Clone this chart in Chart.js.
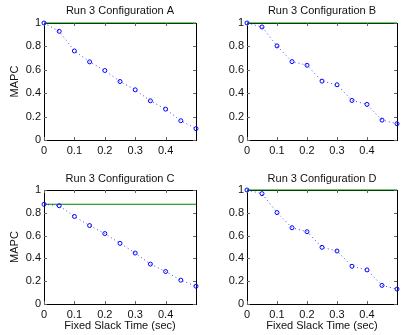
<!DOCTYPE html>
<html>
<head>
<meta charset="utf-8">
<script src="https://cdn.jsdelivr.net/npm/chart.js@4"></script>
<style>
  body { margin: 0; background: #fff; }
  .panel { position: absolute; }
</style>
</head>
<body>
<div class="panel" style="left:0;top:0;width:201px;height:168px"><canvas id="chart-a"></canvas></div>
<div class="panel" style="left:201px;top:0;width:201px;height:168px"><canvas id="chart-b"></canvas></div>
<div class="panel" style="left:0;top:168px;width:201px;height:167px"><canvas id="chart-c"></canvas></div>
<div class="panel" style="left:201px;top:168px;width:201px;height:167px"><canvas id="chart-d"></canvas></div>
<script>
// data
const slackTimes = [0, 0.05, 0.1, 0.15, 0.2, 0.25, 0.3, 0.35, 0.4, 0.45, 0.5];
const mapcA = [1.0, 0.929, 0.761, 0.668, 0.594, 0.50, 0.429, 0.335, 0.264, 0.165, 0.097];
const mapcB = [1.0, 0.966, 0.804, 0.670, 0.639, 0.503, 0.472, 0.338, 0.304, 0.170, 0.139];
const mapcC = [0.875, 0.862, 0.768, 0.688, 0.618, 0.532, 0.447, 0.350, 0.285, 0.209, 0.156];
const mapcD = [1.0, 0.968, 0.802, 0.669, 0.634, 0.497, 0.465, 0.331, 0.299, 0.163, 0.131];
const baselines = [1.0, 1.0, 0.875, 1.0]; // green reference line, A..D
const configNames = ['A', 'B', 'C', 'D'];
const xTicks = [0, 0.1, 0.2, 0.3, 0.4];
const yTicks = [0, 0.2, 0.4, 0.6, 0.8, 1];

const FONT = { family: '"Liberation Sans", Arial, sans-serif', size: 11, weight: 'normal' };

// matlab style box + inward tick marks
const boxPlugin = {
  id: 'box',
  beforeDatasetsDraw(chart) {
    const a = chart.chartArea, c = chart.ctx;
    const xs = chart.scales.x, ys = chart.scales.y;
    c.save();
    c.strokeStyle = '#000';
    c.lineWidth = 1;
    c.strokeRect(Math.round(a.left) + 0.5, Math.round(a.top) + 0.5,
                 Math.round(a.right - a.left), Math.round(a.bottom - a.top));
    c.strokeStyle = '#666';
    c.beginPath();
    xTicks.forEach(function (v) {
      const px = Math.round(xs.getPixelForValue(v)) + 0.5;
      c.moveTo(px, a.bottom); c.lineTo(px, a.bottom - 3);
      c.moveTo(px, a.top); c.lineTo(px, a.top + 3);
    });
    yTicks.forEach(function (v) {
      const py = Math.round(ys.getPixelForValue(v)) + 0.5;
      c.moveTo(a.left, py); c.lineTo(a.left + 3, py);
      c.moveTo(a.right, py); c.lineTo(a.right - 3, py);
    });
    c.stroke();
    c.restore();
  }
};

function makeChart(id, idx, values, opts) {
  const pts = slackTimes.map(function (t, i) { return { x: t, y: values[i] }; });
  const g = baselines[idx];
  return new Chart(document.getElementById(id), {
    type: 'line',
    data: {
      datasets: [{
        data: pts,
        borderColor: 'rgba(0,0,255,0.75)',
        borderWidth: 1,
        borderDash: [1, 3],
        pointRadius: 2,
        pointBorderWidth: 1,
        pointBorderColor: '#0000ff',
        pointBackgroundColor: 'rgba(0,0,0,0)',
        clip: false,
        order: 0
      }, {
        data: [{ x: 0, y: g }, { x: 0.5, y: g }],
        borderColor: 'rgb(0,128,0)',
        borderWidth: 1.2,
        pointRadius: 0,
        clip: false,
        order: 1
      }]
    },
    options: {
      responsive: true,
      maintainAspectRatio: false,
      animation: false,
      layout: { padding: { left: 0, right: opts.padRight, top: 0, bottom: 0 } },
      plugins: {
        legend: { display: false },
        tooltip: { enabled: false },
        title: {
          display: true,
          text: 'Run 3 Configuration ' + configNames[idx],
          color: '#111',
          font: FONT,
          fullSize: false,
          padding: { top: opts.titleTop, bottom: opts.titleBottom }
        }
      },
      scales: {
        x: {
          type: 'linear',
          min: 0,
          max: 0.5,
          afterBuildTicks: function (s) { s.ticks = xTicks.map(function (v) { return { value: v }; }); },
          afterFit: function (s) { s.height = opts.xHeight; },
          grid: { display: false, drawTicks: false },
          border: { display: false },
          ticks: {
            color: '#111', font: FONT, padding: 4, maxRotation: 0,
            callback: function (v) { return String(+v.toFixed(2)); }
          },
          title: {
            display: opts.xTitle,
            text: 'Fixed Slack Time (sec)',
            color: '#111',
            font: FONT,
            padding: { top: 0, bottom: 2.7 }
          }
        },
        y: {
          min: 0,
          max: 1,
          afterBuildTicks: function (s) { s.ticks = yTicks.map(function (v) { return { value: v }; }); },
          afterFit: function (s) { s.width = opts.yWidth; },
          grid: { display: false, drawTicks: false },
          border: { display: false },
          ticks: {
            color: '#111', font: FONT, padding: 3,
            callback: function (v) { return String(+v.toFixed(2)); }
          },
          title: {
            display: opts.yTitle,
            text: 'MAPC',
            color: '#111',
            font: FONT,
            padding: { top: 8.4, bottom: 0 }
          }
        }
      }
    },
    plugins: [boxPlugin]
  });
}

makeChart('chart-a', 0, mapcA, { padRight: 2, yWidth: 44, xHeight: 28, titleTop: 4.4, titleBottom: 5.4, xTitle: false, yTitle: true });
makeChart('chart-b', 1, mapcB, { padRight: 1, yWidth: 46, xHeight: 28, titleTop: 4.4, titleBottom: 5.4, xTitle: false, yTitle: false });
makeChart('chart-c', 2, mapcC, { padRight: 2, yWidth: 44, xHeight: 31, titleTop: 4.2, titleBottom: 4.6, xTitle: true, yTitle: true });
makeChart('chart-d', 3, mapcD, { padRight: 1, yWidth: 46, xHeight: 31, titleTop: 4.2, titleBottom: 4.6, xTitle: true, yTitle: false });
</script>
</body>
</html>
